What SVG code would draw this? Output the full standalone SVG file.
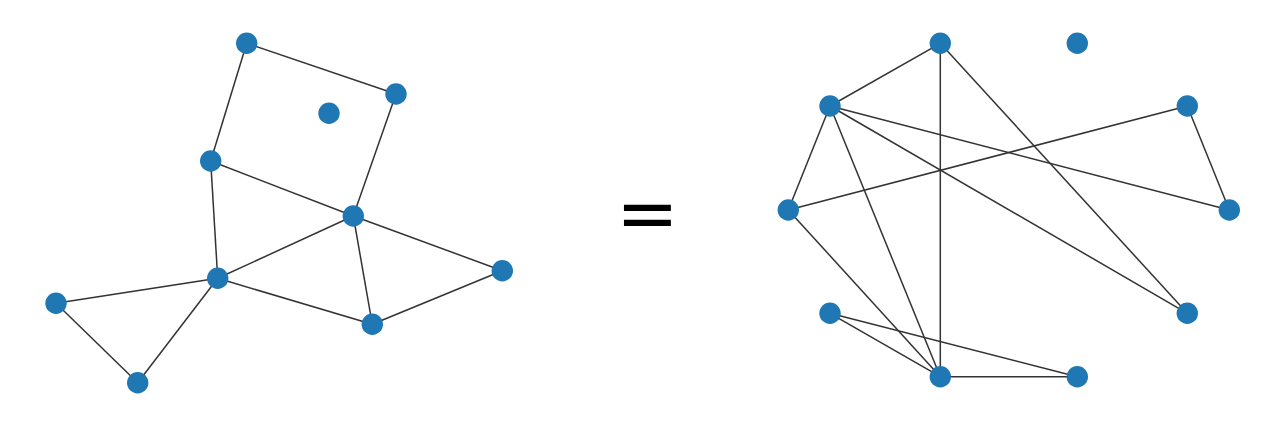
<svg xmlns="http://www.w3.org/2000/svg" width="1284" height="427" viewBox="0 0 1284 427">
<style>
.e{stroke:#333333;stroke-width:1.5;fill:none}
.n{fill:#1f77b4}
.eq{font-family:"DejaVu Sans",sans-serif;font-size:75px;fill:#000}
</style>
<rect width="1284" height="427" fill="#fff"/>
<g id="connectors">
<line class="e" x1="246.7" y1="43.3" x2="396" y2="94"/>
<line class="e" x1="246.7" y1="43.3" x2="210.7" y2="161"/>
<line class="e" x1="396" y1="94" x2="353.3" y2="216"/>
<line class="e" x1="210.7" y1="161" x2="353.3" y2="216"/>
<line class="e" x1="210.7" y1="161" x2="217.7" y2="278.3"/>
<line class="e" x1="217.7" y1="278.3" x2="353.3" y2="216"/>
<line class="e" x1="353.3" y1="216" x2="502.3" y2="270.7"/>
<line class="e" x1="353.3" y1="216" x2="372.3" y2="324.3"/>
<line class="e" x1="217.7" y1="278.3" x2="372.3" y2="324.3"/>
<line class="e" x1="372.3" y1="324.3" x2="502.3" y2="270.7"/>
<line class="e" x1="217.7" y1="278.3" x2="56" y2="303.3"/>
<line class="e" x1="56" y1="303.3" x2="137.7" y2="382.7"/>
<line class="e" x1="217.7" y1="278.3" x2="137.7" y2="382.7"/>
<line class="e" x1="940.3" y1="43.3" x2="830" y2="106"/>
<line class="e" x1="940.3" y1="43.3" x2="940.3" y2="376.7"/>
<line class="e" x1="940.3" y1="43.3" x2="1187.3" y2="313.3"/>
<line class="e" x1="830" y1="106" x2="788.3" y2="210"/>
<line class="e" x1="830" y1="106" x2="1229.3" y2="210"/>
<line class="e" x1="830" y1="106" x2="1187.3" y2="313.3"/>
<line class="e" x1="830" y1="106" x2="940.3" y2="376.7"/>
<line class="e" x1="788.3" y1="210" x2="1187.3" y2="106"/>
<line class="e" x1="1187.3" y1="106" x2="1229.3" y2="210"/>
<line class="e" x1="788.3" y1="210" x2="940.3" y2="376.7"/>
<line class="e" x1="830" y1="313.3" x2="940.3" y2="376.7"/>
<line class="e" x1="830" y1="313.3" x2="1077.3" y2="376.7"/>
<line class="e" x1="940.3" y1="376.7" x2="1077.3" y2="376.7"/>
</g>
<g id="left-nodes">
<circle id="L1" class="n" cx="246.7" cy="43.3" r="10.7"/>
<circle id="L2" class="n" cx="396" cy="94" r="10.7"/>
<circle id="L3" class="n" cx="329" cy="113.3" r="10.7"/>
<circle id="L4" class="n" cx="210.7" cy="161" r="10.7"/>
<circle id="L5" class="n" cx="353.3" cy="216" r="10.7"/>
<circle id="L6" class="n" cx="502.3" cy="270.7" r="10.7"/>
<circle id="L7" class="n" cx="217.7" cy="278.3" r="10.7"/>
<circle id="L8" class="n" cx="56" cy="303.3" r="10.7"/>
<circle id="L9" class="n" cx="372.3" cy="324.3" r="10.7"/>
<circle id="L10" class="n" cx="137.7" cy="382.7" r="10.7"/>
</g>
<g id="right-nodes">
<circle id="R1" class="n" cx="940.3" cy="43.3" r="10.7"/>
<circle id="R2" class="n" cx="1077.3" cy="43.3" r="10.7"/>
<circle id="R3" class="n" cx="830" cy="106" r="10.7"/>
<circle id="R4" class="n" cx="1187.3" cy="106" r="10.7"/>
<circle id="R5" class="n" cx="788.3" cy="210" r="10.7"/>
<circle id="R6" class="n" cx="1229.3" cy="210" r="10.7"/>
<circle id="R7" class="n" cx="830" cy="313.3" r="10.7"/>
<circle id="R8" class="n" cx="1187.3" cy="313.3" r="10.7"/>
<circle id="R9" class="n" cx="940.3" cy="376.7" r="10.7"/>
<circle id="R10" class="n" cx="1077.3" cy="376.7" r="10.7"/>
</g>
<g id="equals">
<text class="eq" x="647.5" y="239" text-anchor="middle">=</text>
</g>
</svg>
